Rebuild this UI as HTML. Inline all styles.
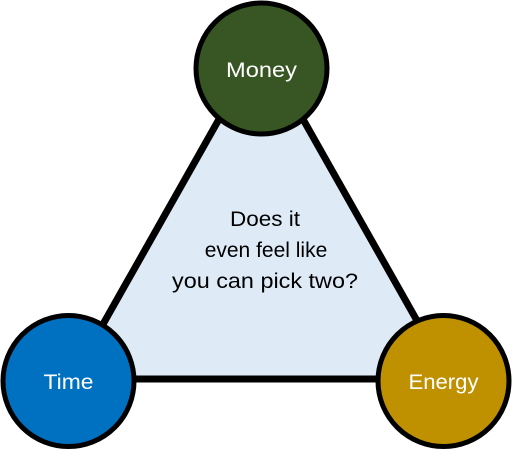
<!DOCTYPE html>
<html><head><style>html,body{margin:0;padding:0;background:#fff;width:512px;height:450px;overflow:hidden}</style></head>
<body>
<svg width="512" height="450" viewBox="0 0 512 450" xmlns="http://www.w3.org/2000/svg" font-family="'Liberation Sans', sans-serif">
<polygon points="261,45 72,379 450,379" fill="#DEEBF7" stroke="#000" stroke-width="7" stroke-linejoin="round"/>
<circle cx="261.5" cy="68.5" r="65.5" fill="#375623" stroke="#000" stroke-width="5"/>
<circle cx="68.5" cy="381" r="65.5" fill="#0070C0" stroke="#000" stroke-width="5"/>
<circle cx="443.5" cy="381" r="65.5" fill="#BF9000" stroke="#000" stroke-width="5"/>
<text x="261.5" y="77" fill="#fff" font-size="21" text-anchor="middle" textLength="71" lengthAdjust="spacingAndGlyphs">Money</text>
<text x="68.5" y="389" fill="#fff" font-size="21" text-anchor="middle" textLength="50" lengthAdjust="spacingAndGlyphs">Time</text>
<text x="443.5" y="389" fill="#fff" font-size="21" text-anchor="middle" textLength="70" lengthAdjust="spacingAndGlyphs">Energy</text>
<g font-size="21" fill="#000" text-anchor="middle">
<text x="265" y="226" textLength="70" lengthAdjust="spacingAndGlyphs">Does it</text>
<text x="266" y="257">even feel like</text>
<text x="265" y="288" textLength="186" lengthAdjust="spacingAndGlyphs">you can pick two?</text>
</g>
</svg>
</body></html>
